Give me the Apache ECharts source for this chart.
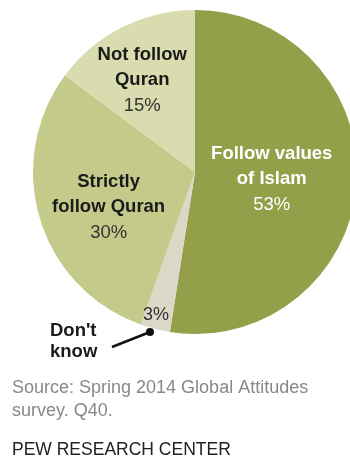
<!DOCTYPE html>
<html>
<head>
<meta charset="utf-8">
<script src="https://cdn.jsdelivr.net/npm/echarts@6/dist/echarts.min.js"></script>
<style>
  html, body { margin: 0; padding: 0; background: #fff; }
  #chart { width: 350px; height: 459px; }
</style>
</head>
<body>
<div id="chart"></div>
<script>
// kategoriler ve değerler (saat yönünde, tepeden başlayarak)
const kategoriler = ["Follow values\nof Islam", "Don't know", "Strictly\nfollow Quran", "Not follow\nQuran"];
const degerler = [53, 3, 30, 15];
const renkler = ["#949f4a", "#dcd8c8", "#c4ca8a", "#d8dcae"];
// etiket kaydırmaları
const kaydirmalar = [[-7, 1], [0, 0], [-6, 11], [-15, -16]];

const myChart = echarts.init(document.getElementById("chart"));
const font = "'Liberation Sans', Arial, sans-serif";

const veri = kategoriler.map((ad, i) => {
  const dark = i === 0;
  const item = {
    name: ad,
    value: degerler[i],
    itemStyle: { color: renkler[i] },
    label: {
      offset: kaydirmalar[i],
      rich: {
        b: { fontFamily: font, fontWeight: "bold", fontSize: 18.5, lineHeight: 25, color: dark ? "#fff" : "#1a1a1a" },
        p: { fontFamily: font, fontSize: 18.5, lineHeight: 27, color: dark ? "#fff" : "#333" }
      }
    }
  };
  if (i === 1) {
    item.label = { show: false };
  }
  return item;
});

const option = {
  animation: false,
  series: [
    {
      type: "pie",
      center: [195, 172],
      radius: [0, 162],
      startAngle: 90,
      clockwise: true,
      silent: true,
      z: 1,
      data: veri,
      label: {
        show: true,
        position: "inside",
        align: "center",
        formatter: (p) => p.name.split("\n").map(s => "{b|" + s + "}").join("\n") + "\n{p|" + p.value + "%}"
      },
      labelLine: { show: false },
      itemStyle: { borderWidth: 0 }
    }
  ],
  graphic: [
    { type: "text", z: 100, left: 143, top: 306, style: { text: "3%", font: "18px " + font, fill: "#333" } },
    { type: "text", z: 100, left: 50, top: 320, style: { text: "Don't\nknow", font: "bold 18.5px " + font, fill: "#1a1a1a", lineHeight: 21 } },
    { type: "line", z: 100, shape: { x1: 112, y1: 347, x2: 150, y2: 332 }, style: { stroke: "#111", lineWidth: 2.5 } },
    { type: "circle", z: 100, shape: { cx: 150, cy: 332, r: 4 }, style: { fill: "#111" } },
    { type: "text", z: 100, left: 12, top: 377, style: { text: "Source: Spring 2014 Global Attitudes\nsurvey. Q40.", font: "18px " + font, fill: "#888", lineHeight: 23 } },
    { type: "text", z: 100, left: 12, top: 441, style: { text: "PEW RESEARCH CENTER", font: "17.5px " + font, fill: "#222" } }
  ]
};

myChart.setOption(option);
</script>
</body>
</html>
